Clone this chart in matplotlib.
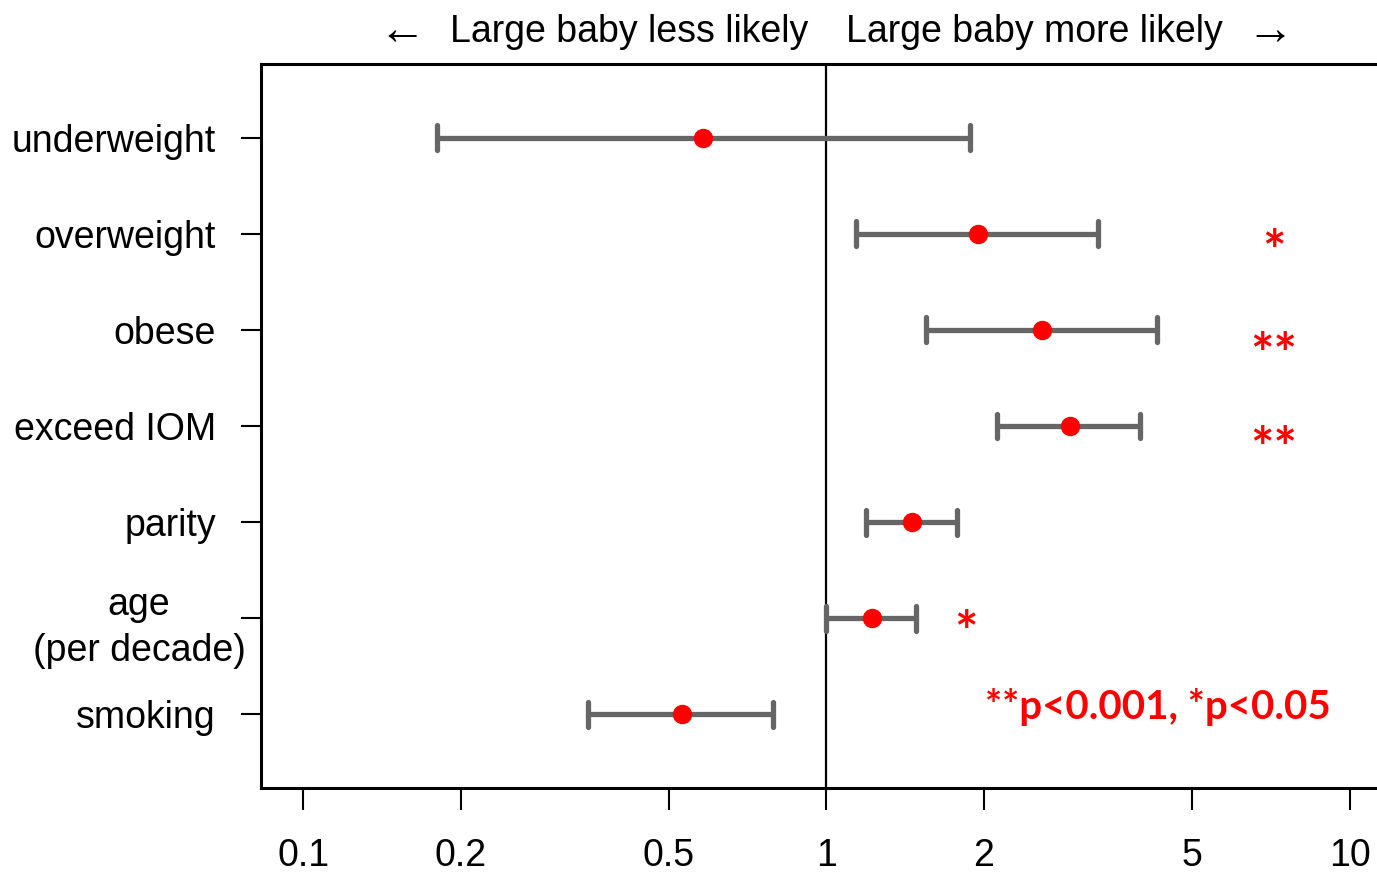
import numpy as np
import matplotlib
matplotlib.use("Agg")
import matplotlib.pyplot as plt
from matplotlib import transforms

# Odds ratios with 95% CI (log scale)
labels = ["underweight", "overweight", "obese", "exceed IOM", "parity",
          "age\n(per decade)", "smoking"]
odds = [0.58, 1.95, 2.58, 2.92, 1.46, 1.22, 0.53]
ci_low = [0.18, 1.14, 1.55, 2.12, 1.19, 1.00, 0.35]
ci_high = [1.88, 3.30, 4.28, 3.98, 1.78, 1.48, 0.79]
stars = ["", "*", "**", "**", "", "*", ""]
star_x = [None, 7.16, 7.16, 7.16, None, 1.85, None]
star_dy = [0, 0.38, 0.45, 0.43, 0, 0.34, 0]
xticks = [0.1, 0.2, 0.5, 1, 2, 5, 10]
xticklabels = ["0.1", "0.2", "0.5", "1", "2", "5", "10"]

plt.rcParams['font.family'] = ['Liberation Sans', 'DejaVu Sans']

fig = plt.figure(figsize=(13.77, 8.73), dpi=100)
ax = fig.add_axes([261 / 1377, 1 - 788 / 873, (1391 - 261) / 1377, (788 - 64) / 873])

ypos = np.arange(1, len(labels) + 1)
gray = "#666666"
for y, o, lo, hi in zip(ypos, odds, ci_low, ci_high):
    ax.plot([lo, hi], [y, y], color=gray, lw=3.8, solid_capstyle='butt', zorder=2)
    ax.plot([lo, lo], [y - 0.13, y + 0.13], color=gray, lw=3.8, solid_capstyle='round', zorder=2)
    ax.plot([hi, hi], [y - 0.13, y + 0.13], color=gray, lw=3.8, solid_capstyle='round', zorder=2)
ax.plot(odds, ypos, 'o', color='red', ms=13, zorder=3)

ax.axvline(1, color='black', lw=1.6, zorder=1)

ax.set_xscale('log')
ax.set_xlim(0.083, 12.0)
ax.set_ylim(7.77, 0.23)

ax.set_xticks(xticks)
ax.set_xticklabels(xticklabels)
ax.xaxis.set_minor_locator(matplotlib.ticker.NullLocator())
ax.set_yticks(ypos)
ax.set_yticklabels([l if "\n" not in l else "" for l in labels])
ax.tick_params(axis='x', length=16, width=1.5, pad=20, labelsize=27)
ax.tick_params(axis='y', length=14.5, width=1.5, pad=18, labelsize=27)
for s in ax.spines.values():
    s.set_linewidth(2.2)

# multi-line label for age, centered block
trans = transforms.blended_transform_factory(fig.transFigure, ax.transData)
ax.text(139 / 1377, 6.1, labels[5], transform=trans, ha='center', va='center',
        fontsize=27, multialignment='center', linespacing=1.35)

for y, st, sx, dy in zip(ypos, stars, star_x, star_dy):
    if st:
        ax.text(sx, y + dy, st, color='red', fontsize=40, fontweight='bold',
                family=['Lato', 'DejaVu Sans'], ha='center', va='baseline')

ax.text(4.31, 6.93, "**p<0.001, *p<0.05", color='red', fontsize=29, fontweight='bold',
        family=['Lato', 'DejaVu Sans'], ha='center', va='center')

ty = 1 - 32 / 873
fig.text(402 / 1377, ty, "\u2190", ha='center', va='center', fontsize=34)
fig.text(808 / 1377, ty, "Large baby less likely", ha='right', va='center', fontsize=27)
fig.text(846 / 1377, ty, "Large baby more likely", ha='left', va='center', fontsize=27)
fig.text(1270 / 1377, ty, "\u2192", ha='center', va='center', fontsize=34)

fig.savefig("out.png", dpi=100)
